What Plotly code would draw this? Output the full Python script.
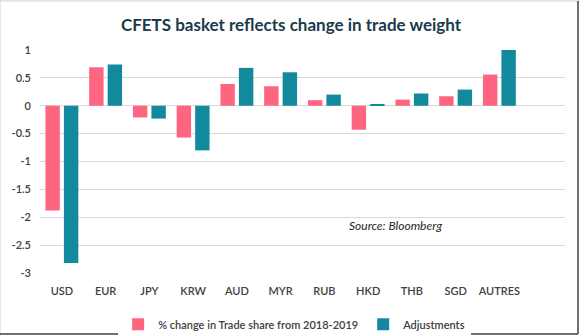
import plotly.graph_objects as go

categories = ["USD", "EUR", "JPY", "KRW", "AUD", "MYR", "RUB", "HKD", "THB", "SGD", "AUTRES"]
trade_share_change = [-1.88, 0.69, -0.21, -0.57, 0.39, 0.35, 0.10, -0.43, 0.11, 0.17, 0.56]
adjustments = [-2.82, 0.74, -0.23, -0.80, 0.68, 0.60, 0.20, 0.03, 0.22, 0.29, 1.00]
y_ticks = [1, 0.5, 0, -0.5, -1, -1.5, -2, -2.5, -3]

PINK = "#FD6581"
TEAL = "#13899D"
FONT = "Lato"

fig = go.Figure()
fig.add_trace(go.Bar(name="% change in Trade share from 2018-2019", x=categories,
                     y=trade_share_change, marker=dict(color=PINK, line=dict(width=0))))
fig.add_trace(go.Bar(name="Adjustments", x=categories, y=adjustments,
                     marker=dict(color=TEAL, line=dict(width=0))))

fig.update_layout(
    width=582, height=336,
    margin=dict(l=40, r=17, t=50, b=63, autoexpand=False),
    paper_bgcolor="white", plot_bgcolor="white",
    barmode="group", bargap=0.155, bargroupgap=0.22,
    title=dict(text="<b>CFETS basket reflects change in trade weight</b>",
               x=0.5, xanchor="center", y=1 - 25 / 336, yanchor="middle",
               font=dict(family=FONT, size=17, color="#1B3A4B")),
    font=dict(family=FONT, size=11, color="#404040"),
    showlegend=True,
    legend=dict(orientation="h", x=0.485, xanchor="center", y=-0.23, yanchor="middle",
                font=dict(family=FONT, size=11, color="#404040", weight=600),
                itemwidth=30, traceorder="normal"),
    xaxis=dict(type="category", range=[-0.5, 11.5], showgrid=False, showline=False,
               zeroline=False, ticks="", ticklabelstandoff=10,
               tickfont=dict(family=FONT, size=11, color="#404040", weight=600)),
    yaxis=dict(range=[-3, 1], tickvals=y_ticks, ticktext=[f"{v:g}" for v in y_ticks],
               showgrid=True, gridcolor="#D9D9D9", gridwidth=1,
               zeroline=True, zerolinecolor="#D9D9D9", zerolinewidth=1,
               showline=False, ticks="", ticklabelstandoff=8,
               tickfont=dict(family=FONT, size=11, color="#404040", weight=600)),
)

fig.add_annotation(text="<i>Source: Bloomberg</i>", xref="paper", yref="y",
                   x=0.6775, y=-2.15, xanchor="center", yanchor="middle", showarrow=False,
                   font=dict(family=FONT, size=12, color="#262626"))

# chart border
fig.add_shape(type="line", xref="paper", yref="paper", x0=-40/525, x1=-40/525,
              y0=-63/222.7, y1=1 + 49/222.7, line=dict(color="#D0D0D0", width=1))
fig.add_shape(type="line", xref="paper", yref="paper", x0=-40/525, x1=1 + 15/525,
              y0=1 + 49/222.7, y1=1 + 49/222.7, line=dict(color="#D0D0D0", width=1))
fig.add_shape(type="line", xref="paper", yref="paper", x0=1 + 13/525, x1=1 + 13/525,
              y0=-61/222.7, y1=1 + 49/222.7, line=dict(color="#404040", width=1.5))
fig.add_shape(type="line", xref="paper", yref="paper", x0=-40/525, x1=1 + 13/525,
              y0=-61/222.7, y1=-61/222.7, line=dict(color="#404040", width=1.5))

fig.write_html("out.html")
